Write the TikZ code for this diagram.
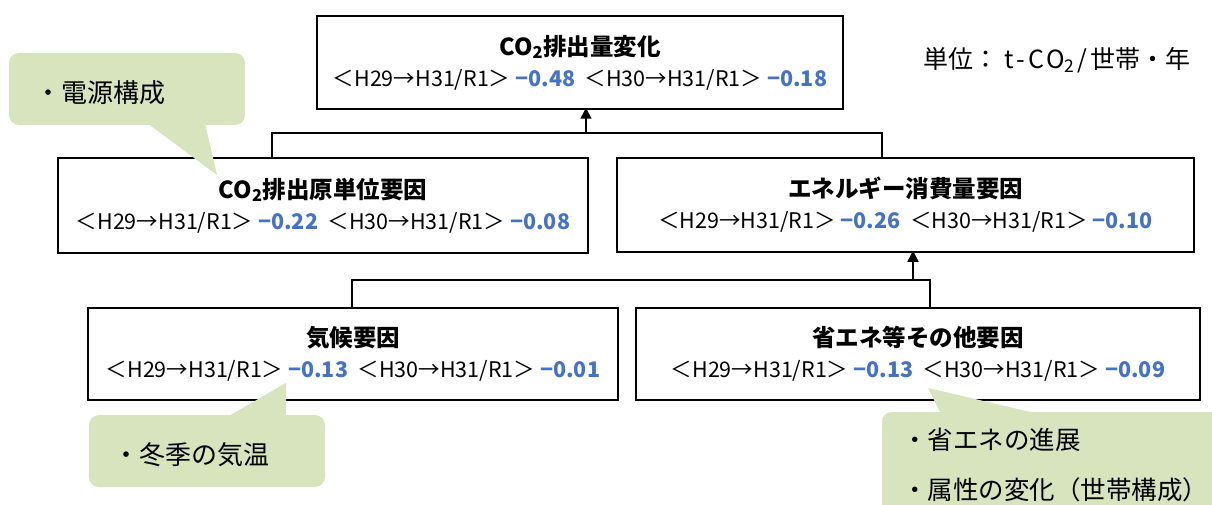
\documentclass[tikz,border=0pt]{standalone}
\usepackage{fontspec}
\setmainfont{Noto Sans CJK JP}
\usetikzlibrary{arrows.meta}
\definecolor{calloutgreen}{HTML}{D7E4BD}
\definecolor{numblue}{HTML}{4472C4}
\newcommand{\nv}[1]{\textcolor{numblue}{\bfseries #1}}
\newcommand{\ttl}[1]{{\fontsize{23.5}{27}\selectfont\bfseries #1}}
\newcommand{\cotwo}{CO\textsubscript{2}}
\begin{document}
\begin{tikzpicture}[x=1pt,y=-1pt,
  box/.style={draw, line width=1.5pt, fill=white, align=center, inner sep=0pt, font=\fontsize{21.5}{31}\selectfont},
  link/.style={line width=1.5pt},
  arr/.style={line width=1.5pt, -{Triangle[width=11pt,length=11pt]}, shorten >=-2pt},
  callout/.style={fill=calloutgreen, rounded corners=10pt},
  ctext/.style={font=\fontsize{26}{50}\selectfont, anchor=west, inner sep=0pt, align=left}]
\useasboundingbox (0,0) rectangle (1212,505);
\clip (0,0) rectangle (1212,505);

% boxes
\node[box, minimum width=526pt, minimum height=93pt] (b1) at (580,62.5)
  {\ttl{\cotwo 排出量変化}\\＜H29→H31/R1＞ \nv{−0.48}\ \ ＜H30→H31/R1＞ \nv{−0.18}};
\node[box, minimum width=530pt, minimum height=95pt] (b2) at (323,205.5)
  {\ttl{\cotwo 排出原単位要因}\\＜H29→H31/R1＞ \nv{−0.22}\ \ ＜H30→H31/R1＞ \nv{−0.08}};
\node[box, minimum width=577pt, minimum height=94pt] (b3) at (905.5,205)
  {\ttl{エネルギー消費量要因}\\＜H29→H31/R1＞ \nv{−0.26}\ \ ＜H30→H31/R1＞ \nv{−0.10}};
\node[box, minimum width=530pt, minimum height=92pt] (b4) at (353,354)
  {\ttl{気候要因}\\＜H29→H31/R1＞ \nv{−0.13}\ \ ＜H30→H31/R1＞ \nv{−0.01}};
\node[box, minimum width=564pt, minimum height=92pt] (b5) at (918,354)
  {\ttl{省エネ等その他要因}\\＜H29→H31/R1＞ \nv{−0.13}\ \ ＜H30→H31/R1＞ \nv{−0.09}};

% connectors
\coordinate (m1) at (586,133);
\coordinate (m2) at (913,280);
\draw[link] ([xshift=-51pt]b2.north) |- (m1) -| ([xshift=-23.5pt]b3.north);
\draw[arr] (m1) -- (m1 |- b1.south);
\draw[link] ([xshift=-1pt]b4.north) |- (m2) -| ([xshift=12pt]b5.north);
\draw[arr] (m2) -- (m2 |- b3.south);

% unit
\node[font=\fontsize{25}{28}\selectfont, anchor=west, inner sep=0pt] (unit) at (923,60)
  {単位：\kern6pt t\kern3pt-\kern3pt C\kern2pt O\textsubscript{2}\kern2pt/\kern4pt 世帯・年};

% callouts
\fill[callout] (9,53) rectangle (245,125);
\fill[calloutgreen] (147,123) -- (217,175) -- (205,123) -- cycle;
\node[ctext] (c1) at (35,93) {・電源構成};

\fill[callout] (89,415) rectangle (325,487);
\fill[calloutgreen] (227,417) -- (286,383) -- (286,417) -- cycle;
\node[ctext] (c2) at (113,455) {・冬季の気温};

\fill[callout] (882,412) rectangle (1240,540);
\fill[calloutgreen] (941,414) -- (928,388) -- (1039,414) -- cycle;
\node[ctext, font=\fontsize{25.5}{50}\selectfont] (c3) at (902,440) {・省エネの進展};
\node[ctext, font=\fontsize{25.5}{50}\selectfont] (c4) at (902,490) {・属性の変化（世帯構成）};
\end{tikzpicture}
\end{document}
